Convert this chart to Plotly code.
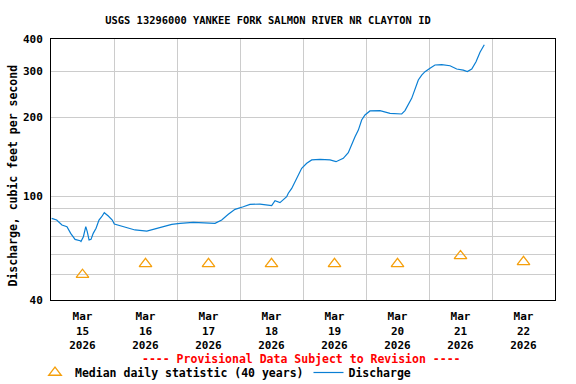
import plotly.graph_objects as go

title_text = "USGS 13296000 YANKEE FORK SALMON RIVER NR CLAYTON ID"
y_title_text = "Discharge, cubic feet per second"
notice_text = "---- Provisional Data Subject to Revision ----"

discharge_time = [
    "2026-03-15 00:15", "2026-03-15 02:10", "2026-03-15 04:10", "2026-03-15 06:05",
    "2026-03-15 07:30", "2026-03-15 09:10", "2026-03-15 11:05", "2026-03-15 11:25",
    "2026-03-15 12:20", "2026-03-15 13:15", "2026-03-15 13:50", "2026-03-15 14:30",
    "2026-03-15 15:15", "2026-03-15 16:05", "2026-03-15 17:10", "2026-03-15 18:17",
    "2026-03-15 19:19", "2026-03-15 20:18", "2026-03-15 21:50", "2026-03-15 23:21",
    "2026-03-16 00:07", "2026-03-16 02:17", "2026-03-16 04:50", "2026-03-16 08:00",
    "2026-03-16 12:30", "2026-03-16 16:52", "2026-03-16 20:05", "2026-03-16 22:00",
    "2026-03-17 01:08", "2026-03-17 06:12", "2026-03-17 14:29", "2026-03-17 17:02",
    "2026-03-17 19:33", "2026-03-17 22:06", "2026-03-18 01:15", "2026-03-18 03:48",
    "2026-03-18 07:37", "2026-03-18 12:04", "2026-03-18 13:20", "2026-03-18 15:14",
    "2026-03-18 17:47", "2026-03-18 18:24", "2026-03-18 19:42", "2026-03-18 20:57",
    "2026-03-18 22:13", "2026-03-18 23:30", "2026-03-19 01:25", "2026-03-19 03:19",
    "2026-03-19 06:29", "2026-03-19 10:17", "2026-03-19 12:34", "2026-03-19 15:21",
    "2026-03-19 17:15", "2026-03-19 18:33", "2026-03-19 19:49", "2026-03-19 21:05",
    "2026-03-19 22:21", "2026-03-19 23:37", "2026-03-20 01:31", "2026-03-20 05:20",
    "2026-03-20 09:09", "2026-03-20 13:36", "2026-03-20 14:51", "2026-03-20 17:24",
    "2026-03-20 18:40", "2026-03-20 19:56", "2026-03-20 21:13", "2026-03-20 22:29",
    "2026-03-21 00:23", "2026-03-21 02:17", "2026-03-21 04:50", "2026-03-21 08:00",
    "2026-03-21 10:33", "2026-03-21 13:04", "2026-03-21 14:36", "2026-03-21 16:17",
    "2026-03-21 17:55", "2026-03-21 19:26", "2026-03-21 21:04",
]
discharge_cfs = [
    82.2, 81.0, 77.5, 76.4,
    72.0, 68.3, 67.5, 67.0,
    69.9, 76.4, 73.0, 67.9,
    68.3, 72.0, 75.3, 81.0,
    83.4, 86.4, 83.9, 81.0,
    78.2, 77.0, 75.7, 74.2,
    73.5, 75.3, 76.8, 78.0,
    78.7, 79.4, 78.7, 81.0,
    85.2, 89.0, 91.1, 93.0,
    93.2, 92.0, 96.0, 94.4,
    99.5, 102.6, 107.0, 113.6,
    120.5, 127.8, 133.6, 137.6,
    138.2, 137.6, 135.5, 139.6,
    146.7, 159.0, 169.0, 179.0,
    195.7, 204.6, 212.0, 212.7,
    207.7, 206.4, 212.7, 237.0,
    255.0, 278.6, 291.0, 299.8,
    308.8, 318.0, 319.0, 316.0,
    307.0, 304.0, 300.0, 307.0,
    327.0, 356.0, 380.0,
]

median_time = ["2026-03-15 12:00", "2026-03-16 12:00", "2026-03-17 12:00", "2026-03-18 12:00",
               "2026-03-19 12:00", "2026-03-20 12:00", "2026-03-21 12:00", "2026-03-22 12:00"]
median_cfs = [50, 55, 55, 55, 55, 55, 59, 56]

x_tick_vals = median_time
x_tick_text = ["Mar<br>15<br>2026", "Mar<br>16<br>2026", "Mar<br>17<br>2026", "Mar<br>18<br>2026",
               "Mar<br>19<br>2026", "Mar<br>20<br>2026", "Mar<br>21<br>2026", "Mar<br>22<br>2026"]
x_grid_vals = ["2026-03-16", "2026-03-17", "2026-03-18", "2026-03-19",
               "2026-03-20", "2026-03-21", "2026-03-22"]
y_tick_vals = [40, 100, 200, 300, 400]
y_grid_minor = [50, 60, 70, 80, 90]

FONT = "DejaVu Sans Mono"
BLUE = "#0a7fd4"
ORANGE = "#f59f0b"

fig = go.Figure()
fig.add_trace(go.Scatter(
    x=median_time, y=median_cfs, mode="markers",
    name="Median daily statistic (40 years)",
    marker=dict(symbol="triangle-up-open", size=11, color=ORANGE, line=dict(width=1.3, color=ORANGE)),
))
fig.add_trace(go.Scatter(
    x=discharge_time, y=discharge_cfs, mode="lines",
    name="Discharge", line=dict(color=BLUE, width=1.2),
))

fig.update_layout(
    width=576, height=384,
    margin=dict(l=51, r=21, t=39, b=84, autoexpand=False),
    paper_bgcolor="white", plot_bgcolor="white",
    font=dict(family=FONT, size=11, color="black", weight="bold"),
    title=dict(text=title_text, x=268 / 576, xanchor="center", xref="container",
               y=1 - 20 / 384, yanchor="middle", yref="container",
               font=dict(family=FONT, size=10.4, color="black", weight="bold")),
    showlegend=True,
    legend=dict(orientation="h", xref="container", yref="container",
                x=35 / 576, xanchor="left", y=(384 - 372.5) / 384, yanchor="middle",
                font=dict(family=FONT, size=11.5, color="black", weight="bold"),
                bgcolor="rgba(0,0,0,0)", itemwidth=30, tracegroupgap=0,
                traceorder="normal"),
)

fig.update_xaxes(
    type="date", automargin=False,
    range=["2026-03-15 00:00", "2026-03-23 00:00"],
    tickmode="array", tickvals=x_tick_vals, ticktext=x_tick_text,
    showgrid=False, ticks="", ticklabelstandoff=6,
    minor=dict(tickmode="array", tickvals=x_grid_vals, showgrid=True,
               gridcolor="#cccccc", gridwidth=1, ticks=""),
    showline=True, linecolor="black", linewidth=1, mirror=True,
    zeroline=False, tickfont=dict(family=FONT, size=11, weight="bold"),
)
fig.update_yaxes(
    type="log", automargin=False,
    range=[1.6020599913, 2.6020599913],
    tickmode="array", tickvals=y_tick_vals, ticktext=[str(v) for v in y_tick_vals],
    showgrid=True, gridcolor="#cccccc", gridwidth=1, ticks="", ticklabelstandoff=5,
    minor=dict(tickmode="array", tickvals=y_grid_minor, showgrid=True,
               gridcolor="#cccccc", gridwidth=1, ticks=""),
    showline=True, linecolor="black", linewidth=1, mirror=True,
    zeroline=False, tickfont=dict(family=FONT, size=11, weight="bold"),
)

fig.add_annotation(
    text=y_title_text, textangle=-90,
    xref="paper", yref="paper", x=(12 - 51) / 504, y=(300 - 175.5) / 261,
    xanchor="center", yanchor="middle", showarrow=False,
    font=dict(family=FONT, size=11.5, color="black", weight="bold"),
)
fig.add_annotation(
    text=notice_text,
    xref="paper", yref="paper", x=(301 - 51) / 504, y=-(359 - 300) / 261,
    xanchor="center", yanchor="middle", showarrow=False,
    font=dict(family=FONT, size=11.5, color="red", weight="bold"),
)

fig.write_html("out.html", config={"displayModeBar": False},
               post_script="document.body.style.margin='0';")
